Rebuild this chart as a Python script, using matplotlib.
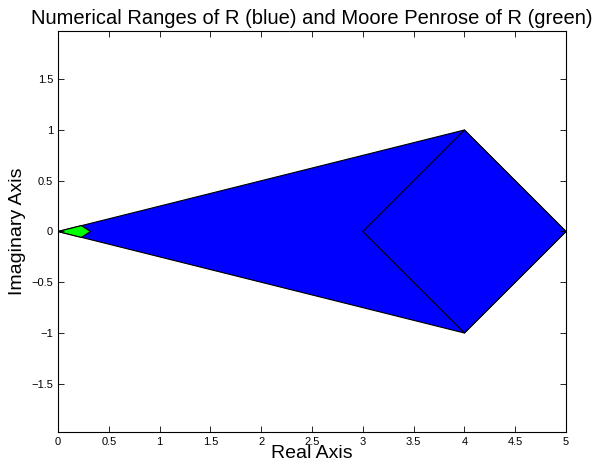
import matplotlib
matplotlib.use("Agg")
import matplotlib.pyplot as plt
from matplotlib.patches import Polygon

plt.rcParams['font.family'] = ['Liberation Sans', 'DejaVu Sans']

# Numerical range of R (blue): convex hull vertices
blue_x = [0, 4, 5, 4]
blue_y = [0, 1, 0, -1]
# inner diamond outline
inner_x = [3, 4, 5, 4]
inner_y = [0, 1, 0, -1]
# Moore Penrose of R (green)
green_x = [0, 0.23, 0.32, 0.23]
green_y = [0, 0.058, 0, -0.058]

xticks = [0, 0.5, 1, 1.5, 2, 2.5, 3, 3.5, 4, 4.5, 5]
yticks = [-1.5, -1, -0.5, 0, 0.5, 1, 1.5]

fig = plt.figure(figsize=(5.93, 4.68), dpi=100)
ax = fig.add_axes([0.0978, 0.0769, 0.8567, 0.8569])

ax.add_patch(Polygon(list(zip(blue_x, blue_y)), closed=True, facecolor='#0000ff', edgecolor='black', linewidth=0.8))
ax.add_patch(Polygon(list(zip(inner_x, inner_y)), closed=True, facecolor='#0000ff', edgecolor='black', linewidth=0.8))
ax.add_patch(Polygon(list(zip(green_x, green_y)), closed=True, facecolor='#00ff00', edgecolor='black', linewidth=0.8))

ax.set_xlim(0, 5)
ax.set_ylim(-1.975, 1.975)
ax.set_xticks(xticks)
ax.set_xticklabels([f"{t:g}" for t in xticks])
ax.set_yticks(yticks)
ax.set_yticklabels([f"{t:g}".replace('-', '\u2212') for t in yticks])
ax.tick_params(direction='in', top=True, right=True, labelsize=8, length=4, width=0.6)
for s in ax.spines.values():
    s.set_linewidth(0.8)

ax.set_xlabel('Real Axis', fontsize=14, labelpad=-1)
ax.set_ylabel('Imaginary Axis', fontsize=14, labelpad=4)
ax.set_title('Numerical Ranges of R (blue) and Moore Penrose of R (green)', fontsize=14.5, pad=5)

fig.savefig('out.png', dpi=100)
